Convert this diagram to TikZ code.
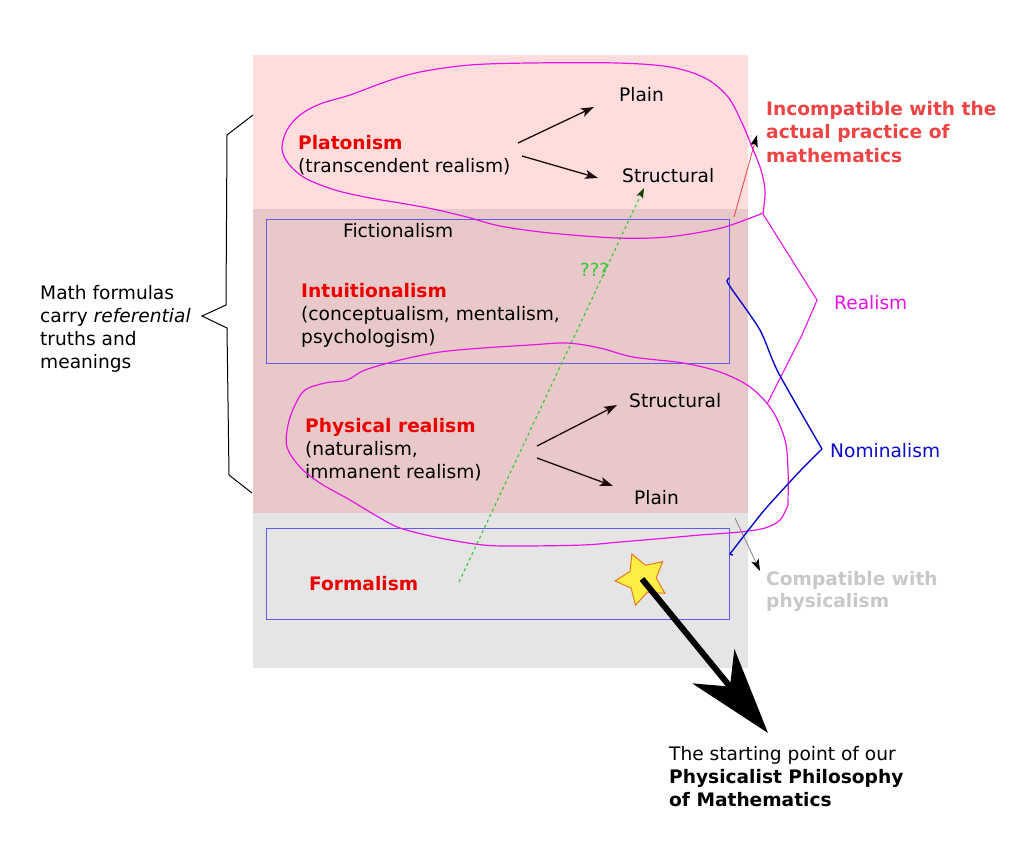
\documentclass[tikz,border=0pt]{standalone}
\usepackage{fontspec}
\setmainfont{DejaVu Sans}
\usetikzlibrary{arrows.meta,shapes.geometric}
\definecolor{pinktop}{RGB}{255,221,221}
\definecolor{rosemid}{RGB}{232,200,200}
\definecolor{greybot}{RGB}{229,229,229}
\definecolor{boxblue}{RGB}{100,90,240}
\definecolor{labelred}{RGB}{235,0,0}
\definecolor{incompred}{RGB}{238,68,68}
\definecolor{magcurve}{RGB}{230,20,230}
\definecolor{nomblue}{RGB}{10,10,200}
\definecolor{greenq}{RGB}{50,200,50}
\definecolor{compgrey}{RGB}{200,200,200}
\definecolor{arrowdark}{RGB}{30,10,10}
\definecolor{starfill}{RGB}{255,238,68}
\definecolor{stardraw}{RGB}{238,120,34}
\begin{document}
\begin{tikzpicture}[x=1pt,y=-1pt,
  txt/.style={font=\fontsize{18.6}{23}\selectfont, inner sep=0pt, anchor=base west, align=left, text=black},
  boldred/.style={txt, font=\fontsize{18.6}{23}\selectfont\bfseries, text=labelred},
  bluebox/.style={draw=boxblue, line width=0.8pt},
  blob/.style={draw=magcurve, line width=1.2pt},
  brancharrow/.style={draw=arrowdark, line width=1.3pt, -{Stealth[length=13pt,width=9pt,inset=3pt]}},
  thinarrow/.style={line width=0.8pt, -{Stealth[length=12pt,width=8pt,inset=3pt,black]}}
]
\useasboundingbox (0,0) rectangle (1024,857);
% background bands
\fill[pinktop] (253,55) rectangle (748,209);
\fill[rosemid] (253,209) rectangle (748,513);
\fill[greybot] (253,513) rectangle (748,668);
% blue boxes
\draw[bluebox] (266,219) rectangle (729,363);
\draw[bluebox] (266,528) rectangle (729,619);

% texts (multi-line nodes: base = baseline of the last line)
\node[txt] (plain1) at (619,101) {Plain};
\node[txt] (plat) at (298,172) {{\bfseries\color{labelred}Platonism}\\(transcendent realism)};
\node[txt] (struct1) at (622,182) {Structural};
\node[txt] (fict) at (343,237) {Fictionalism};
\node[txt, text=greenq, font=\fontsize{18}{20}\selectfont] (qqq) at (580,276) {???};
\node[txt] (intu) at (301,343) {{\bfseries\color{labelred}Intuitionalism}\\(conceptualism, mentalism,\\psychologism)};
\node[txt] (phys) at (305,478) {{\bfseries\color{labelred}Physical realism}\\(naturalism,\\immanent realism)};
\node[txt] (struct2) at (629,407) {Structural};
\node[txt] (plain2) at (634,504) {Plain};
\node[boldred] (formal) at (309,590) {Formalism};
\node[txt, font=\fontsize{18.6}{23.5}\selectfont\bfseries, text=incompred] (incomp) at (766,162) {Incompatible with the\\actual practice of\\mathematics};
\node[txt, text=magcurve] (realism) at (834,309) {Realism};
\node[txt, text=nomblue] (nomin) at (830,457) {Nominalism};
\node[txt, font=\fontsize{18.6}{22}\selectfont\bfseries, text=compgrey] (compat) at (766,607) {Compatible with\\physicalism};
\node[txt] (mathf) at (40,368) {Math formulas\\carry \textit{referential}\\truths and\\meanings};
\node[txt] (start) at (669,806) {The starting point of our\\\textbf{Physicalist Philosophy}\\\textbf{of Mathematics}};

% star
\node[star, star points=5, star point ratio=1.9, minimum size=54pt, inner sep=0pt,
      fill=starfill, draw=stardraw, line width=1pt, shape border rotate=22] (starn) at (642,579) {};

% coordinates for connectors
\coordinate (p1s) at (518,143);
\coordinate (p1e) at (594,107);
\coordinate (p2s) at (522,156);
\coordinate (p2e) at (598,178);
\coordinate (r1s) at (537,446);
\coordinate (r1e) at (617,405);
\coordinate (r2s) at (537,458);
\coordinate (r2e) at (613,486);
\coordinate (gs) at (459,582);
\coordinate (ge) at (644,188);
\coordinate (rs) at (734,217);
\coordinate (re) at (757,135);
\coordinate (cs) at (735,518);
\coordinate (ce) at (760,571);
\coordinate (bigtip) at (768,733);

\draw[brancharrow] (p1s) -- (p1e);
\draw[brancharrow] (p2s) -- (p2e);
\draw[brancharrow] (r1s) -- (r1e);
\draw[brancharrow] (r2s) -- (r2e);

% green dashed
\draw[draw=greenq, line width=1.1pt, dash pattern=on 3pt off 3pt,
      -{Stealth[length=10pt,width=7pt,inset=2pt,arrowdark!80!green]}] (gs) -- (ge);

% red thin to incompatible
\draw[thinarrow, draw=incompred] (rs) -- (re);
% grey thin to compatible
\draw[thinarrow, draw=gray] (cs) -- (ce);

% left brace
\draw[black, line width=1pt, line join=miter] (253,115) -- (227,135) -- (226,305) -- (202,316) -- (227,328) -- (229,475) -- (252,493);

% top blob (Platonism)
\draw[blob] plot[smooth, tension=0.55] coordinates {
 (763,213) (745,220) (717,229) (667,237) (617,238) (550,233) (500,226) (467,217)
 (433,209) (400,203) (370,198) (335,190) (305,178) (288,163) (282,148) (287,130)
 (300,115) (320,104) (350,95) (385,82) (420,72) (470,65) (530,63) (617,63)
 (670,67) (705,78) (728,97) (742,123) (752,147) (761,170) (765,190) (764,206) (763,213)};

% bottom blob (Physical realism)
\draw[blob] plot[smooth, tension=0.55] coordinates {
 (788,505) (780,520) (765,528) (740,532) (700,535) (667,538) (620,542) (583,545)
 (520,546) (483,545) (440,538) (400,528) (375,515) (350,500) (320,483) (300,467)
 (287,447) (288,425) (295,405) (305,390) (325,383) (347,380) (365,370) (400,360)
 (440,352) (483,348) (530,345) (567,343) (600,348) (633,357) (683,363) (720,372)
 (750,387) (772,410) (785,440) (788,470) (788,505)};

% realism brace
\draw[draw=magcurve, line width=1.1pt] (763,214) -- (817,300) -- (812,312) -- (801,337) -- (767,404);

% nominalism brace
\draw[draw=nomblue, line width=1.4pt] plot[smooth, tension=0.4] coordinates {
 (729,278) (727,281) (731,288) (760,330) (778,372) (822,449)};
\draw[draw=nomblue, line width=1.4pt] plot[smooth, tension=0.4] coordinates {
 (822,449) (800,471) (767,507) (750,528) (733,550) (730,554) (733,555)};

% big arrow
\draw[line width=6pt, -{Stealth[length=86pt,width=54pt,inset=26pt]}] (starn.center) -- (bigtip);
\end{tikzpicture}
\end{document}
